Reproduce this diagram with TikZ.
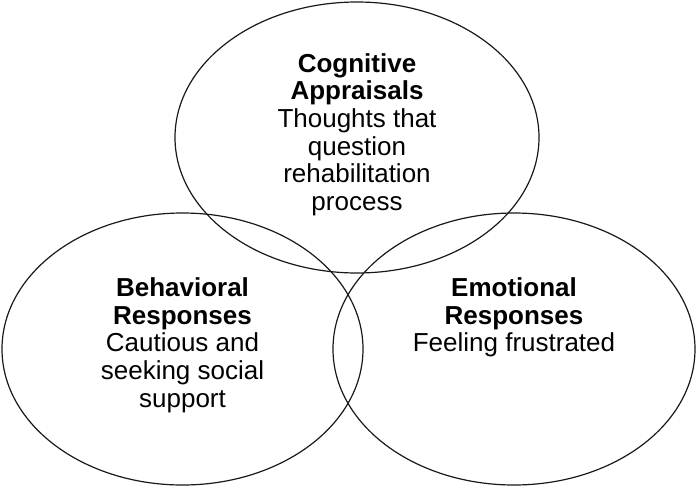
\documentclass[tikz,border=0pt]{standalone}
\usepackage{fontspec}
\setmainfont{Liberation Sans}

\begin{document}
\begin{tikzpicture}[x=1pt,y=-1pt]
\path[use as bounding box] (0,0) rectangle (697.0,488.0);
\tikzset{
  circ/.style={line width=1.2pt,draw=black!90},
  head/.style={anchor=base,inner sep=0pt,font=\fontsize{26}{28}\selectfont \bfseries},
  body/.style={anchor=base,inner sep=0pt,font=\fontsize{26}{28}\selectfont}
}
\draw[circ] (357,137.5) ellipse (182 and 135.5);
\draw[circ] (182.5,349) ellipse (180.5 and 136);
\draw[circ] (514,349) ellipse (181 and 136);
\node[head] (cogA) at (357,72) {Cognitive};
\node[head] (cogB) at (357,99.7) {Appraisals};
\node[body] (cogC) at (357,127.4) {Thoughts that};
\node[body] (cogD) at (357,155.1) {question};
\node[body] (cogE) at (357,182.8) {rehabilitation};
\node[body] (cogF) at (357,210.5) {process};
\node[head] (behA) at (182.5,296.5) {Behavioral};
\node[head] (behB) at (182.5,324.2) {Responses};
\node[body] (behC) at (182.5,351.9) {Cautious and};
\node[body] (behD) at (182.5,379.6) {seeking social};
\node[body] (behE) at (182.5,407.3) {support};
\node[head] (emoA) at (514,296.5) {Emotional};
\node[head] (emoB) at (514,324.2) {Responses};
\node[body] (emoC) at (514,351.9) {Feeling frustrated};
\end{tikzpicture}
\end{document}
